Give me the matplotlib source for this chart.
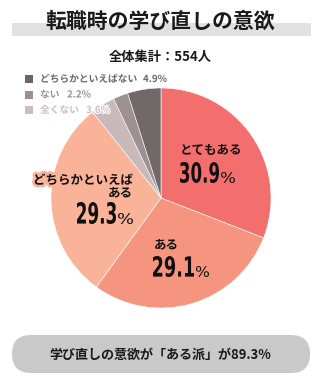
import matplotlib
matplotlib.use("Agg")
import matplotlib.pyplot as plt
import matplotlib.patheffects as pe
from matplotlib.patches import Rectangle, FancyBboxPatch, PathPatch
from matplotlib.textpath import TextPath
from matplotlib.font_manager import FontProperties
from matplotlib.transforms import Affine2D

plt.rcParams['font.family'] = ['Noto Sans CJK JP', 'DejaVu Sans']

# ---- data ----
title = "転職時の学び直しの意欲"
subtitle = "全体集計：554人"
categories = ["とてもある", "ある", "どちらかといえばある", "全くない", "ない", "どちらかといえばない"]
values = [30.9, 29.1, 29.3, 3.6, 2.2, 4.9]
colors = ["#F36F6E", "#F6957F", "#F8B398", "#C9B9BA", "#9D9193", "#716869"]
legend_items = ["どちらかといえばない", "ない", "全くない"]
legend_values = [4.9, 2.2, 3.6]
legend_colors = ["#6E6567", "#9E8F91", "#CDBDBE"]
footer = "学び直しの意欲が「ある派」が89.3%"

W, H = 321, 379
fig = plt.figure(figsize=(W / 100, H / 100), dpi=100)
fig.patch.set_facecolor("white")

# background overlay (pixel coords)
bg = fig.add_axes([0, 0, 1, 1])
bg.set_xlim(0, W)
bg.set_ylim(H, 0)
bg.axis("off")

bg.add_patch(Rectangle((12, 23), 299, 13, color="#E1E1E1", lw=0))
bg.text(W / 2, 21, title, ha="center", va="center", fontsize=15, fontweight="bold", color="#1a1a1a")
bg.text(W / 2, 57, subtitle, ha="center", va="center", fontsize=9.5, fontweight="bold", color="#1a1a1a")

bg.add_patch(FancyBboxPatch((12, 335), 298, 38,
                            boxstyle="round,pad=0,rounding_size=19",
                            color="#C9C9C9", lw=0, mutation_aspect=1))
bg.text(W / 2, 355, footer, ha="center", va="center", fontsize=9.4, fontweight="bold", color="#1a1a1a")

# pie
cx, cy, r = 161, 198, 110
pax = fig.add_axes([(cx - r) / W, (H - cy - r) / H, 2 * r / W, 2 * r / H])
pax.pie(values, colors=colors, startangle=90, counterclock=False,
        wedgeprops=dict(edgecolor="white", linewidth=0.4))
pax.set_xlim(-1, 1)
pax.set_ylim(-1, 1)
pax.set_aspect("equal")
pax.axis("off")

# top overlay for labels
top = fig.add_axes([0, 0, 1, 1])
top.set_xlim(0, W)
top.set_ylim(H, 0)
top.axis("off")
top.patch.set_alpha(0)

# legend
for i, (lab, v, c) in enumerate(zip(legend_items, legend_values, legend_colors)):
    y = 79 + i * 15.5
    top.add_patch(Rectangle((25, y - 4), 8, 8, color=c, lw=0))
    t = top.text(40, y, lab, ha="left", va="center", fontsize=7, fontweight="bold", color=c)
    t.set_path_effects([pe.withStroke(linewidth=1.5, foreground="white")])
    xs = 143 if i == 0 else (40 + len(lab) * 9.5 + 8)
    t2 = top.text(xs, y, f"{v}%", ha="left", va="center", fontsize=7, fontweight="bold", color=c)
    t2.set_path_effects([pe.withStroke(linewidth=1.5, foreground="white")])

fp_bold = FontProperties(family="DejaVu Sans", weight="bold")
fp_light = FontProperties(family="DejaVu Sans", weight="normal")

def squeezed(s, x0, x1, y_top, y_base, fp, color="#111111"):
    path = TextPath((0, 0), s, size=100, prop=fp)
    bb = path.get_extents()
    sx = (x1 - x0) / bb.width
    sy = (y_base - y_top) / bb.height
    tr = Affine2D().translate(-bb.x0, -bb.y0).scale(sx, -sy).translate(x0, y_base)
    top.add_patch(PathPatch(tr.transform_path(path), color=color, lw=0))

def big_label(val, box_num, box_pct):
    squeezed(f"{val}", *box_num, fp_bold)
    squeezed("%", *box_pct, fp_light)

# とてもある
top.text(180, 150.5, categories[0], ha="left", va="center", fontsize=9, fontweight="bold", color="#111111")
big_label(values[0], (180, 219, 162, 183), (221, 235, 172, 183))
# ある
top.text(154, 245, categories[1], ha="left", va="center", fontsize=9, fontweight="bold", color="#111111")
big_label(values[1], (153, 194, 256, 277), (196, 209, 266, 277))
# どちらかといえばある
stroke = [pe.withStroke(linewidth=4, foreground=colors[2])]
t = top.text(133, 180.5, "どちらかといえば", ha="right", va="center", fontsize=9, fontweight="bold", color="#111111")
t.set_path_effects(stroke)
top.text(133, 193, "ある", ha="right", va="center", fontsize=9, fontweight="bold", color="#111111")
big_label(values[2], (77, 116, 202, 224), (118, 133, 213, 224))

fig.savefig("out.png", dpi=100)
